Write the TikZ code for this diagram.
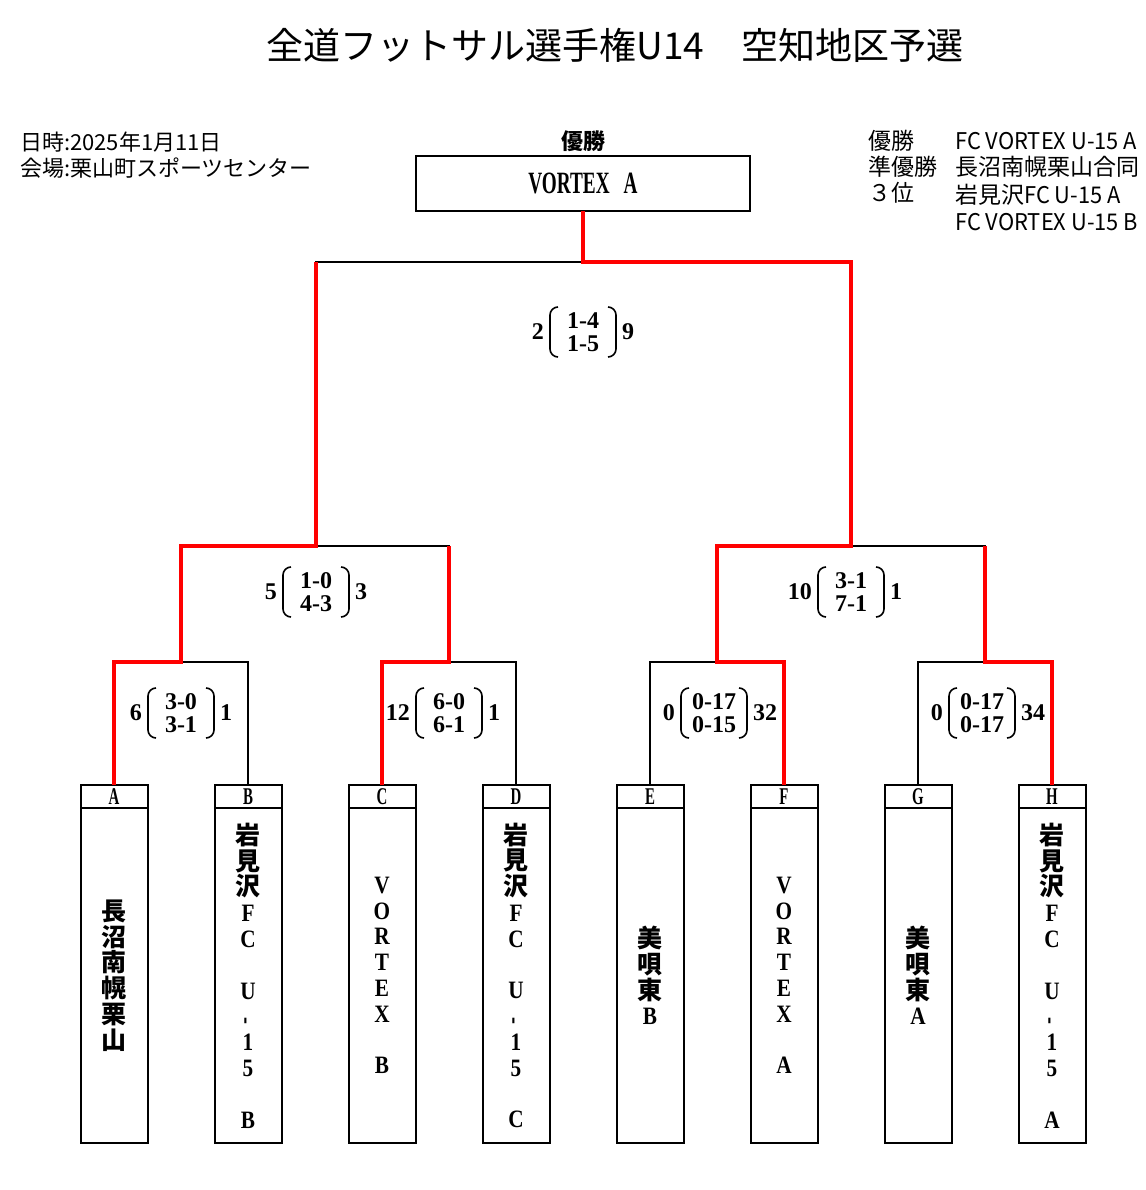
\documentclass[tikz,border=0pt]{standalone}
\usepackage{fontspec}
\usetikzlibrary{positioning}
\setmainfont{Liberation Serif}
\newfontfamily\gothic{Noto Sans CJK JP}
\newfontfamily\gothicnarrow{Noto Sans CJK JP}[FakeStretch=0.95]
\newfontfamily\condserif{Liberation Serif}[FakeStretch=0.85]
\newfontfamily\narrowserif{Liberation Serif}[FakeStretch=0.62]
\newcommand\jp[1]{{\gothic #1}}

\begin{document}
\begin{tikzpicture}[x=1pt,y=-1pt]

    \tikzstyle{bracket}=[draw=black, line width=2pt]
    \tikzstyle{winner}=[draw=red, line width=4pt]
    \tikzstyle{tag}=[draw, line width=2pt, outer sep=0pt, inner sep=0pt, minimum width=67pt, minimum height=23pt, font=\narrowserif\bfseries\fontsize{24}{24}\selectfont]
    \tikzstyle{teambox}=[draw, line width=2pt, outer sep=0pt, inner sep=0pt, minimum width=67pt, minimum height=335pt, anchor=north, align=center, font=\condserif\bfseries\fontsize{25}{25.8}\selectfont]
    \tikzstyle{score}=[inner xsep=11pt, inner ysep=0pt, outer sep=0pt, minimum width=66pt, minimum height=50pt, align=center, font=\bfseries\fontsize{24}{23}\selectfont]
    \tikzstyle{goals}=[inner sep=0pt, font=\bfseries\fontsize{24}{24}\selectfont]
    \tikzstyle{paren}=[draw=black, line width=1.6pt, rounded corners=8pt]
    \tikzstyle{info}=[anchor=west, inner sep=0pt, font=\gothic\fontsize{22}{22}\selectfont]
    \tikzstyle{rank}=[anchor=west, inner sep=0pt, font=\gothic\fontsize{23}{23}\selectfont]

    \useasboundingbox (0,0) rectangle (1145,1190);

    % heading
    \node[font=\gothic\fontsize{37}{37}\selectfont] (title) at (615,45) {全道フットサル選手権U14　空知地区予選};
    \node[info] (date)  at (20,142) {日時:2025年1月11日};
    \node[info] (venue) at (20,168) {会場:栗山町スポーツセンター};

    \node[rank] (r1) at (868,141) {優勝};
    \node[rank] (r2) at (868,167) {準優勝};
    \node[rank] (r3) at (868,193) {３位};
    \node[rank] (t1) at (955,141) {\gothicnarrow FC VORTEX U-15 A};
    \node[rank] (t2) at (955,167) {長沼南幌栗山合同};
    \node[rank] (t3) at (955,195) {岩見沢\gothicnarrow FC U-15 A};
    \node[rank] (t4) at (955,222) {\gothicnarrow FC VORTEX U-15 B};

    % champion
    \node[font=\gothic\bfseries\fontsize{22}{22}\selectfont] (head) at (583,141) {優勝};
    \node[draw, line width=2pt, outer sep=0pt, minimum width=334pt, minimum height=55pt,
          font=\narrowserif\bfseries\fontsize{31}{31}\selectfont] (champ) at (583,183.5) {VORTEX\hspace{14pt}A};

    % teams
    \node[tag] (A) at (114,796.5)  {A};
    \node[tag] (B) at (248,796.5)  {B};
    \node[tag] (C) at (382,796.5)  {C};
    \node[tag] (D) at (516,796.5)  {D};
    \node[tag] (E) at (650,796.5)  {E};
    \node[tag] (F) at (784,796.5)  {F};
    \node[tag] (G) at (918,796.5)  {G};
    \node[tag] (H) at (1052,796.5) {H};

    \node[teambox] (nA) at (A.south) {\jp{長}\\\jp{沼}\\\jp{南}\\\jp{幌}\\\jp{栗}\\\jp{山}};
    \node[teambox] (nB) at (B.south) {\jp{岩}\\\jp{見}\\\jp{沢}\\F\\C\\~\\U\\\rotatebox{90}{-}\\1\\5\\~\\B};
    \node[teambox] (nC) at (C.south) {V\\O\\R\\T\\E\\X\\~\\B};
    \node[teambox] (nD) at (D.south) {\jp{岩}\\\jp{見}\\\jp{沢}\\F\\C\\~\\U\\\rotatebox{90}{-}\\1\\5\\~\\C};
    \node[teambox] (nE) at (E.south) {\jp{美}\\\jp{唄}\\\jp{東}\\B};
    \node[teambox] (nF) at (F.south) {V\\O\\R\\T\\E\\X\\~\\A};
    \node[teambox] (nG) at (G.south) {\jp{美}\\\jp{唄}\\\jp{東}\\A};
    \node[teambox] (nH) at (H.south) {\jp{岩}\\\jp{見}\\\jp{沢}\\F\\C\\~\\U\\\rotatebox{90}{-}\\1\\5\\~\\A};

    % junctions
    \coordinate (ab)   at (181,662);
    \coordinate (cd)   at (449,662);
    \coordinate (ef)   at (717,662);
    \coordinate (gh)   at (985,662);
    \coordinate (abcd) at (316,546);
    \coordinate (efgh) at (851,546);
    \coordinate (fin)  at (583,262);

    \draw[bracket] (A.north) |- (ab) -| (B.north);
    \draw[bracket] (C.north) |- (cd) -| (D.north);
    \draw[bracket] (E.north) |- (ef) -| (F.north);
    \draw[bracket] (G.north) |- (gh) -| (H.north);
    \draw[bracket] (ab) |- (abcd) -| (cd);
    \draw[bracket] (ef) |- (efgh) -| (gh);
    \draw[bracket] (abcd) |- (fin) -| (efgh);
    \draw[bracket] (fin) -- (champ.south);

    \draw[winner] (A.north) |- (ab) |- (abcd) -- (abcd |- fin);
    \draw[winner] (C.north) |- (cd) -- (cd |- abcd);
    \draw[winner] (F.north) |- (ef) |- (efgh) |- (fin) -- (champ.south);
    \draw[winner] (H.north) |- (gh) -- (gh |- efgh);

    % results
    \foreach \m/\x/\y/\l/\p/\q/\r in {AB/181/713/6/3-0/3-1/1, CD/449/713/12/6-0/6-1/1,
                                       EF/714/713/0/0-17/0-15/32, GH/982/713/0/0-17/0-17/34,
                                       ABCD/316/592/5/1-0/4-3/3, EFGH/851/592/10/3-1/7-1/1,
                                       Fin/583/332/2/1-4/1-5/9} {
        \node[score] (s\m) at (\x,\y) {\p\\\q};
        \node[goals, left=6pt of s\m]  (l\m) {\l};
        \node[goals, right=6pt of s\m] (r\m) {\r};
        \draw[paren] ([xshift=8pt]s\m.north west) -- (s\m.north west) -- (s\m.south west) -- ([xshift=8pt]s\m.south west);
        \draw[paren] ([xshift=-8pt]s\m.north east) -- (s\m.north east) -- (s\m.south east) -- ([xshift=-8pt]s\m.south east);
    }

\end{tikzpicture}
\end{document}
